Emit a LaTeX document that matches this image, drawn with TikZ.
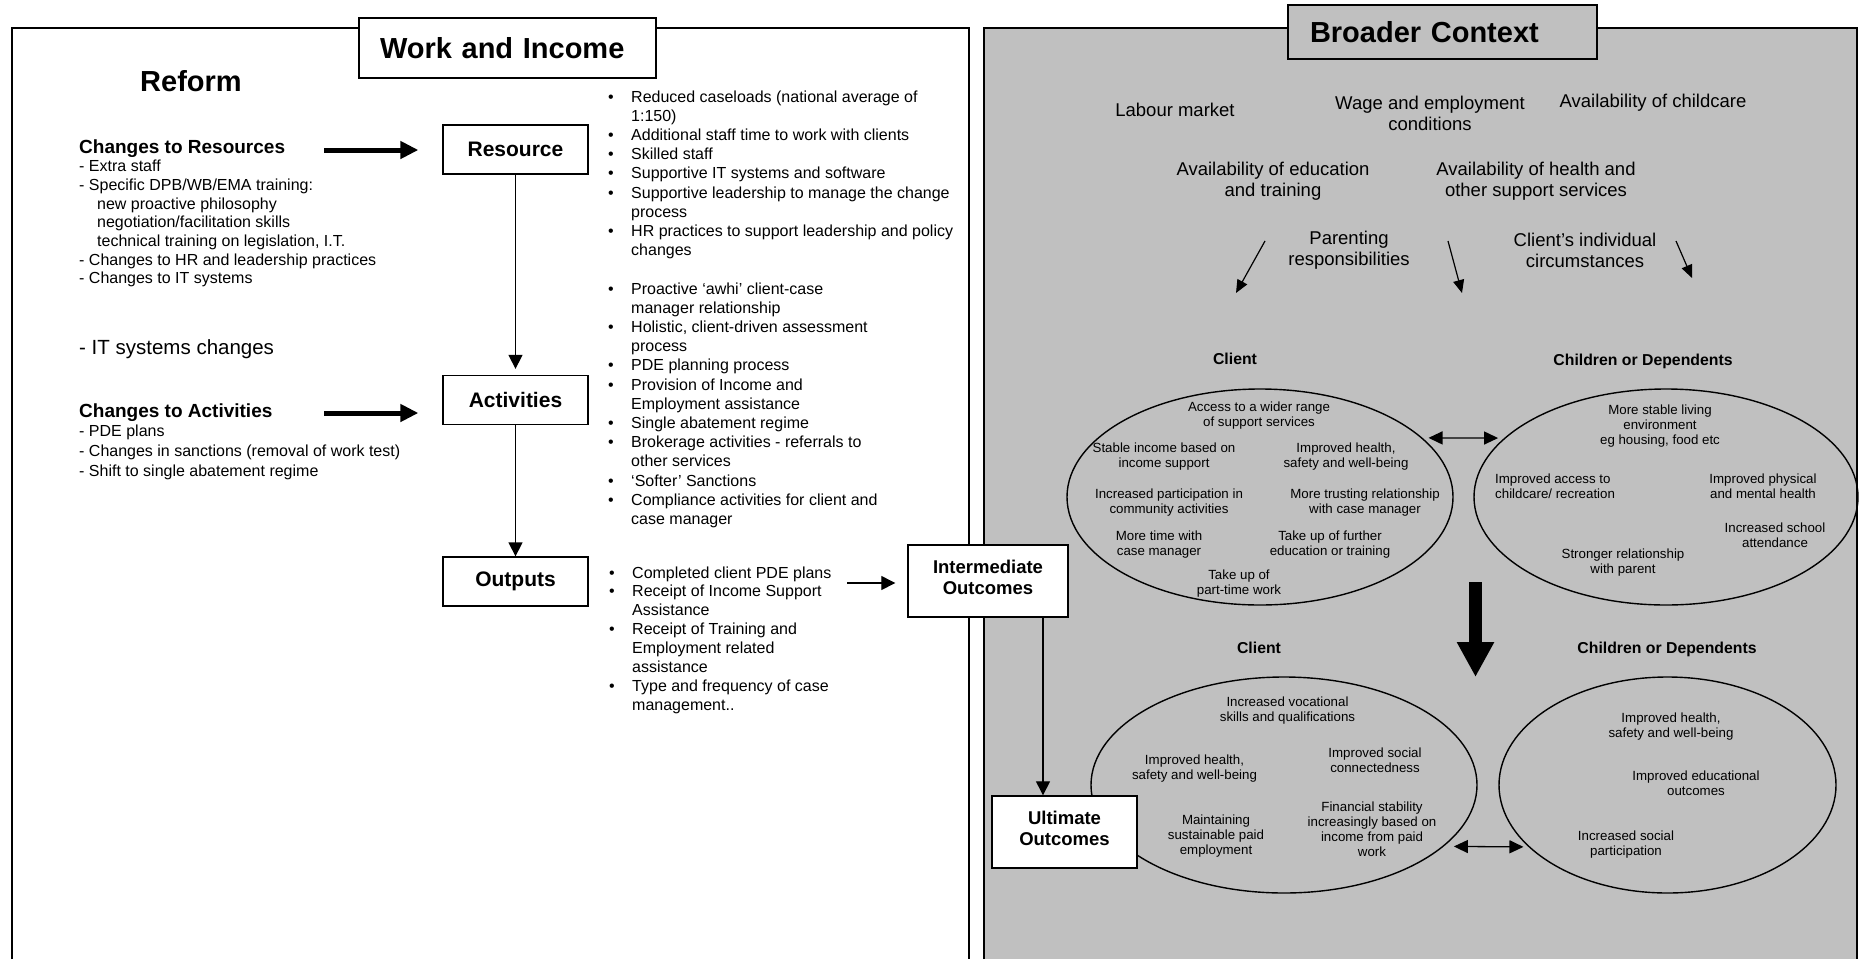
\documentclass[tikz,border=0pt]{standalone}
\usepackage{fontspec}
\setmainfont{Liberation Sans}
\usetikzlibrary{arrows.meta,shapes.geometric,positioning}
\definecolor{ctxGray}{RGB}{192,192,192}

\tikzset{
  framebox/.style={draw, line width=1.4pt},
  titlebox/.style={draw, line width=1.4pt, align=left, inner ysep=0pt, font=\fontsize{29}{33}\selectfont\bfseries},
  stepbox/.style={draw, line width=1.3pt, fill=white, minimum width=145pt, minimum height=49pt, inner sep=0pt, font=\fontsize{21}{24}\selectfont\bfseries},
  outcomebox/.style={draw, line width=1.4pt, fill=white, align=center, inner sep=0pt, text depth=7pt, minimum height=72pt, font=\fontsize{18.5}{21.5}\selectfont\bfseries},
  ctxtext/.style={align=center, inner sep=0pt, font=\fontsize{18.5}{21}\selectfont},
  grouplbl/.style={inner sep=0pt, font=\fontsize{15.8}{18}\selectfont\bfseries},
  oval/.style={draw, ellipse, line width=1.4pt, inner sep=0pt},
  effect/.style={align=center, inner sep=0pt, font=\fontsize{13.3}{15}\selectfont},
  arr/.style={line width=1.3pt, -{Triangle[length=14pt,width=14pt]}},
  thinarr/.style={line width=1.2pt, -{Triangle[length=13pt,width=11pt]}},
  twoarr/.style={line width=1.3pt, {Triangle[length=14pt,width=13pt]}-{Triangle[length=14pt,width=13pt]}},
  fatarr/.style={line width=5pt, -{Triangle[length=18pt,width=17pt]}},
}

\begin{document}
\begin{tikzpicture}[x=1pt, y=-1pt]
  \useasboundingbox (0,0) rectangle (1860,959);

  \draw[framebox] (12,959) -- (12,28) -- (969,28) -- (969,959);
  \filldraw[framebox, fill=ctxGray] (984,959) -- (984,28) -- (1857,28) -- (1857,959);

  \node[titlebox, fill=white, text width=255pt, inner xsep=21pt, minimum height=60pt] (wni) at (507.5,48) {Work and Income};
  \node[titlebox, fill=ctxGray, text width=265pt, inner xsep=22pt, minimum height=54pt] (bctx) at (1442.5,32) {Broader Context};

  \node[anchor=base, inner sep=0pt, font=\fontsize{29}{33}\selectfont\bfseries] (reform) at (191,91) {Reform};

  \node[anchor=base west, inner sep=0pt, font=\fontsize{16}{18.7}\selectfont] (chres) at (79,153) {\begin{tabular}[t]{@{}l@{}}
    {\fontsize{19}{19}\selectfont\bfseries Changes to Resources}\\
    - Extra staff\\
    - Specific DPB/WB/EMA training:\\
    \hspace*{18pt}new proactive philosophy\\
    \hspace*{18pt}negotiation/facilitation skills\\
    \hspace*{18pt}technical training on legislation, I.T.\\
    - Changes to HR and leadership practices\\
    - Changes to IT systems
  \end{tabular}};
  \node[anchor=base west, inner sep=0pt, font=\fontsize{20.5}{24}\selectfont] (itsys) at (79,354) {- IT systems changes};
  \node[anchor=base west, inner sep=0pt, font=\fontsize{16}{19.8}\selectfont] (chact) at (79,417) {\begin{tabular}[t]{@{}l@{}}
    {\fontsize{19}{19}\selectfont\bfseries Changes to Activities}\\
    - PDE plans\\
    - Changes in sanctions (removal of work test)\\
    - Shift to single abatement regime
  \end{tabular}};

  \node[stepbox] (resource) at (515.5,149.5) {Resource};
  \node[stepbox] (activities) at (515.5,400) {Activities};
  \node[stepbox] (outputs) at (515.5,581.5) {Outputs};
  \draw[arr, shorten >=6pt] (resource) -- (activities);
  \draw[arr] (activities) -- (outputs);

  \coordinate (restail) at (324,150);
  \coordinate (acttail) at (324,413);
  \draw[fatarr, shorten >=24pt] (restail) -- (restail -| resource.west);
  \draw[fatarr, shorten >=24pt] (acttail) -- (acttail -| activities.west);

  \node[anchor=base west, inner sep=0pt, font=\fontsize{16}{19.2}\selectfont] (reslist) at (608,102) {\begin{tabular}[t]{@{}p{23pt}@{}l@{}}
    \textbullet & Reduced caseloads (national average of\\
    & 1:150)\\
    \textbullet & Additional staff time to work with clients\\
    \textbullet & Skilled staff\\
    \textbullet & Supportive IT systems and software\\
    \textbullet & Supportive leadership to manage the change\\
    & process\\
    \textbullet & HR practices to support leadership and policy\\
    & changes\\
    & \\
    \textbullet & Proactive ‘awhi’ client-case\\
    & manager relationship\\
    \textbullet & Holistic, client-driven assessment\\
    & process\\
    \textbullet & PDE planning process\\
    \textbullet & Provision of Income and\\
    & Employment assistance\\
    \textbullet & Single abatement regime\\
    \textbullet & Brokerage activities - referrals to\\
    & other services\\
    \textbullet & ‘Softer’ Sanctions\\
    \textbullet & Compliance activities for client and\\
    & case manager
  \end{tabular}};
  \node[anchor=base west, inner sep=0pt, font=\fontsize{16}{18.9}\selectfont] (outlist) at (609,578) {\begin{tabular}[t]{@{}p{23pt}@{}l@{}}
    \textbullet & Completed client PDE plans\\
    \textbullet & Receipt of Income Support\\
    & Assistance\\
    \textbullet & Receipt of Training and\\
    & Employment related\\
    & assistance\\
    \textbullet & Type and frequency of case\\
    & management..
  \end{tabular}};

  \node[outcomebox, minimum width=160pt] (inter) at (988,581) {Intermediate\\Outcomes};
  \coordinate (outtail) at (847,583);
  \draw[arr, shorten >=12pt] (outtail) -- (outtail -| inter.west);

  \node[ctxtext] (labour) at (1175,110) {Labour market};
  \node[ctxtext] (wage) at (1430,113.5) {Wage and employment\\conditions};
  \node[ctxtext] (childcare) at (1653,103) {Availability of childcare};
  \node[ctxtext] (educ) at (1273,181.5) {Availability of education\\and training};
  \node[ctxtext] (hlth) at (1536,181.5) {Availability of health and\\other support services};
  \node[ctxtext] (parent) at (1349,250) {Parenting\\responsibilities};
  \node[ctxtext] (circ) at (1585,250) {Client’s individual\\circumstances};

  \coordinate (pA) at (1265,241);
  \coordinate (pAe) at (1236,293);
  \coordinate (pB) at (1448,241);
  \coordinate (pBe) at (1462,293);
  \coordinate (pC) at (1676,241);
  \coordinate (pCe) at (1692,278);
  \foreach \s/\e in {pA/pAe, pB/pBe, pC/pCe}
    \draw[thinarr] (\s) -- (\e);

  \node[grouplbl] (cliAlbl) at (1235,359) {Client};
  \node[grouplbl] (chiAlbl) at (1643,361) {Children or Dependents};
  \node[grouplbl] (cliBlbl) at (1259,648) {Client};
  \node[grouplbl] (chiBlbl) at (1667,649) {Children or Dependents};

  \node[oval, minimum width=386pt, minimum height=216pt] (cliA) at (1260,497) {};
  \node[oval, minimum width=384pt, minimum height=216pt] (chiA) at (1666,497) {};
  \node[oval, minimum width=386pt, minimum height=216pt] (cliB) at (1284,785) {};
  \node[oval, minimum width=337pt, minimum height=216pt] (chiB) at (1667.5,785) {};

  \draw[twoarr, shorten <=6pt, shorten >=6pt] (cliA.20) -- (chiA.160);
  \draw[twoarr, shorten <=10pt, shorten >=5pt] (cliB.-21) -- (chiB.-156);

  \coordinate (bigtop) at (1475.5,582);
  \coordinate (bigtip) at (1475.5,677);
  \draw[line width=12.5pt, -{Triangle[length=35pt,width=35pt]}] (bigtop) -- (bigtip);

  \node[effect] (accessA) at (1259,415.5) {Access to a wider range\\of support services};
  \node[effect] (stableA) at (1164,456.5) {Stable income based on\\income support};
  \node[effect] (healthA) at (1346,456.5) {Improved health,\\safety and well-being};
  \node[effect] (partA) at (1169,502.5) {Increased participation in\\community activities};
  \node[effect] (trustA) at (1365,502.5) {More trusting relationship\\with case manager};
  \node[effect] (timeA) at (1159,545) {More time with\\case manager};
  \node[effect] (furtherA) at (1330,545) {Take up of further\\education or training};
  \node[effect] (parttimeA) at (1239,583.5) {Take up of\\part-time work};

  \node[effect] (livingC) at (1660,426.5) {More stable living\\environment\\eg housing, food etc};
  \node[effect, anchor=west, align=left] (careC) at (1495,486.5) {Improved access to\\childcare/ recreation};
  \node[effect] (physC) at (1763,486.5) {Improved physical\\and mental health};
  \node[effect] (schoolC) at (1775,535) {Increased school\\attendance};
  \node[effect] (parentC) at (1623,563) {Stronger relationship\\with parent};

  \node[effect] (vocB) at (1287.5,710.5) {Increased vocational\\skills and qualifications};
  \node[effect] (healthB) at (1194.5,768.5) {Improved health,\\safety and well-being};
  \node[effect] (socialB) at (1375,760.5) {Improved social\\connectedness};
  \node[effect] (paidB) at (1216,836.5) {Maintaining\\sustainable paid\\employment};
  \node[effect] (finB) at (1372,829) {Financial stability\\increasingly based on\\income from paid\\work};

  \node[effect] (healthD) at (1671,726.5) {Improved health,\\safety and well-being};
  \node[effect] (eduD) at (1696,783.5) {Improved educational\\outcomes};
  \node[effect] (socD) at (1626,844.5) {Increased social\\participation};

  \node[outcomebox, minimum width=145pt] (ultimate) at (1064.5,832) {Ultimate\\Outcomes};
  \draw[arr] ([xshift=55pt]inter.south) -- ([xshift=55pt]inter.south |- ultimate.north);
\end{tikzpicture}
\end{document}
